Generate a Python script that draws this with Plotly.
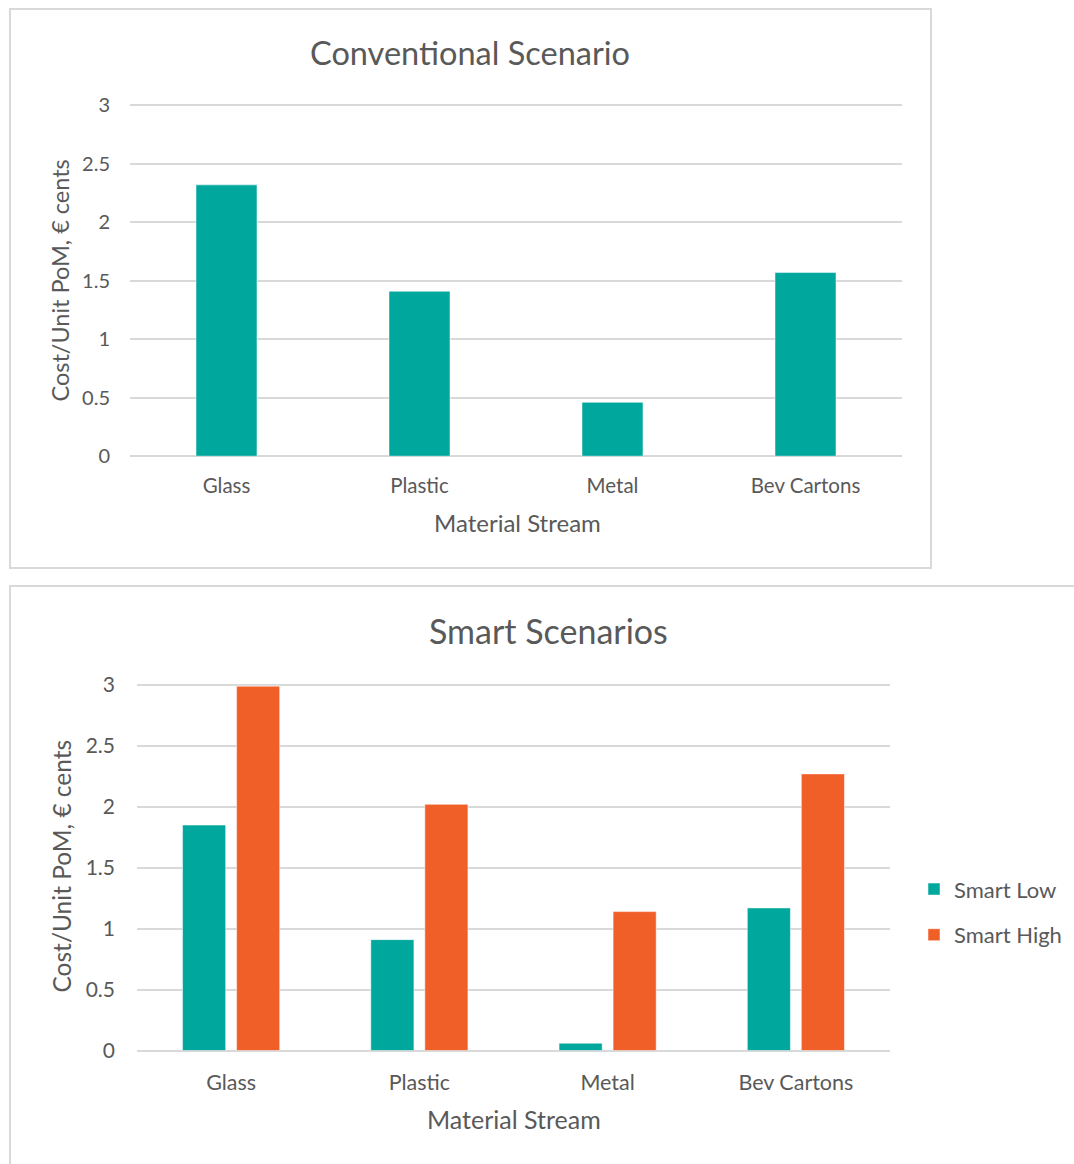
import plotly.graph_objects as go

categories = ["Glass", "Plastic", "Metal", "Bev Cartons"]
conventional = [2.32, 1.41, 0.46, 1.57]
smart_low = [1.85, 0.91, 0.06, 1.17]
smart_high = [2.99, 2.02, 1.14, 2.27]
y_ticks = [0, 0.5, 1, 1.5, 2, 2.5, 3]
y_tick_text = ["0", "0.5", "1", "1.5", "2", "2.5", "3"]

TEAL = "#00A79D"
ORANGE = "#F15F28"
GRID = "#D9D9D9"
TXT = "#595959"
FONT = "Lato, 'Open Sans', sans-serif"

W, H = 1074, 1164


def px(x):
    return x / W


def py(y):
    # vertical mapping from target screen pixel to paper fraction
    return 1 - (y - 8) / 1148


fig = go.Figure()

fig.add_trace(go.Bar(x=categories, y=conventional, marker_color=TEAL, width=0.316,
                     marker_line=dict(color="white", width=0.5),
                     xaxis="x", yaxis="y", showlegend=False, name="Conventional"))
fig.add_trace(go.Bar(x=categories, y=smart_low, marker_color=TEAL, width=0.229, offset=-0.258,
                     marker_line=dict(color="white", width=0.5),
                     xaxis="x2", yaxis="y2", name="Smart Low", legendgroup="a"))
fig.add_trace(go.Bar(x=categories, y=smart_high, marker_color=ORANGE, width=0.229, offset=0.029,
                     marker_line=dict(color="white", width=0.5),
                     xaxis="x2", yaxis="y2", name="Smart High", legendgroup="b"))

xcommon = dict(showgrid=False, zeroline=False, showline=False, ticks="", fixedrange=True)
ycommon = dict(range=[0, 3.02], tickvals=y_ticks, ticktext=y_tick_text, showgrid=True,
               gridcolor=GRID, gridwidth=1.5, zeroline=True, zerolinecolor=GRID,
               zerolinewidth=1.5, showline=False, ticks="", fixedrange=True)

fig.update_layout(
    width=W, height=H,
    margin=dict(l=0, r=0, t=0, b=0),
    paper_bgcolor="white", plot_bgcolor="white",
    font=dict(family=FONT, color=TXT),
    barmode="overlay",
    xaxis=dict(domain=[px(130), px(902)], anchor="y", ticklabelstandoff=15,
               tickfont=dict(size=20.5, color=TXT, family=FONT), **xcommon),
    yaxis=dict(domain=[py(455.5), py(100.5)], anchor="x", ticklabelstandoff=19,
               tickfont=dict(size=20, color=TXT, family=FONT), **ycommon),
    xaxis2=dict(domain=[px(137), px(890)], anchor="y2", ticklabelstandoff=17,
                tickfont=dict(size=21.5, color=TXT, family=FONT), **xcommon),
    yaxis2=dict(domain=[py(1053), py(683)], anchor="x2", ticklabelstandoff=21,
                tickfont=dict(size=21, color=TXT, family=FONT), **ycommon),
    legend=dict(x=px(914), y=py(914), xanchor="left", yanchor="middle",
                font=dict(size=22, color=TXT, family=FONT), traceorder="grouped",
                tracegroupgap=14, itemwidth=30, bgcolor="rgba(0,0,0,0)"),
    shapes=[
        dict(type="rect", xref="paper", yref="paper", x0=px(10), x1=px(931), y0=py(568), y1=py(6),
             line=dict(color=GRID, width=2), fillcolor="rgba(0,0,0,0)", layer="below"),
        dict(type="rect", xref="paper", yref="paper", x0=px(10), x1=px(1085), y0=py(1185), y1=py(586),
             line=dict(color=GRID, width=2), fillcolor="rgba(0,0,0,0)", layer="below"),
    ],
    annotations=[
        dict(text="Conventional Scenario", x=px(470), y=py(50), xref="paper", yref="paper",
             showarrow=False, font=dict(size=32.5, color=TXT, family=FONT), xanchor="center", yanchor="middle"),
        dict(text="Smart Scenarios", x=px(548), y=py(631), xref="paper", yref="paper",
             showarrow=False, font=dict(size=34, color=TXT, family=FONT), xanchor="center", yanchor="middle"),
        dict(text="Cost/Unit PoM, € cents", x=px(60), y=py(279), xref="paper", yref="paper",
             textangle=-90, showarrow=False, font=dict(size=23.5, color=TXT, family=FONT),
             xanchor="center", yanchor="middle"),
        dict(text="Cost/Unit PoM, € cents", x=px(62), y=py(868), xref="paper", yref="paper",
             textangle=-90, showarrow=False, font=dict(size=24.5, color=TXT, family=FONT),
             xanchor="center", yanchor="middle"),
        dict(text="Material Stream", x=px(517), y=py(522), xref="paper", yref="paper",
             showarrow=False, font=dict(size=24, color=TXT, family=FONT), xanchor="center", yanchor="middle"),
        dict(text="Material Stream", x=px(514), y=py(1122), xref="paper", yref="paper",
             showarrow=False, font=dict(size=25, color=TXT, family=FONT), xanchor="center", yanchor="middle"),
    ],
)

fig.write_html("out.html")
